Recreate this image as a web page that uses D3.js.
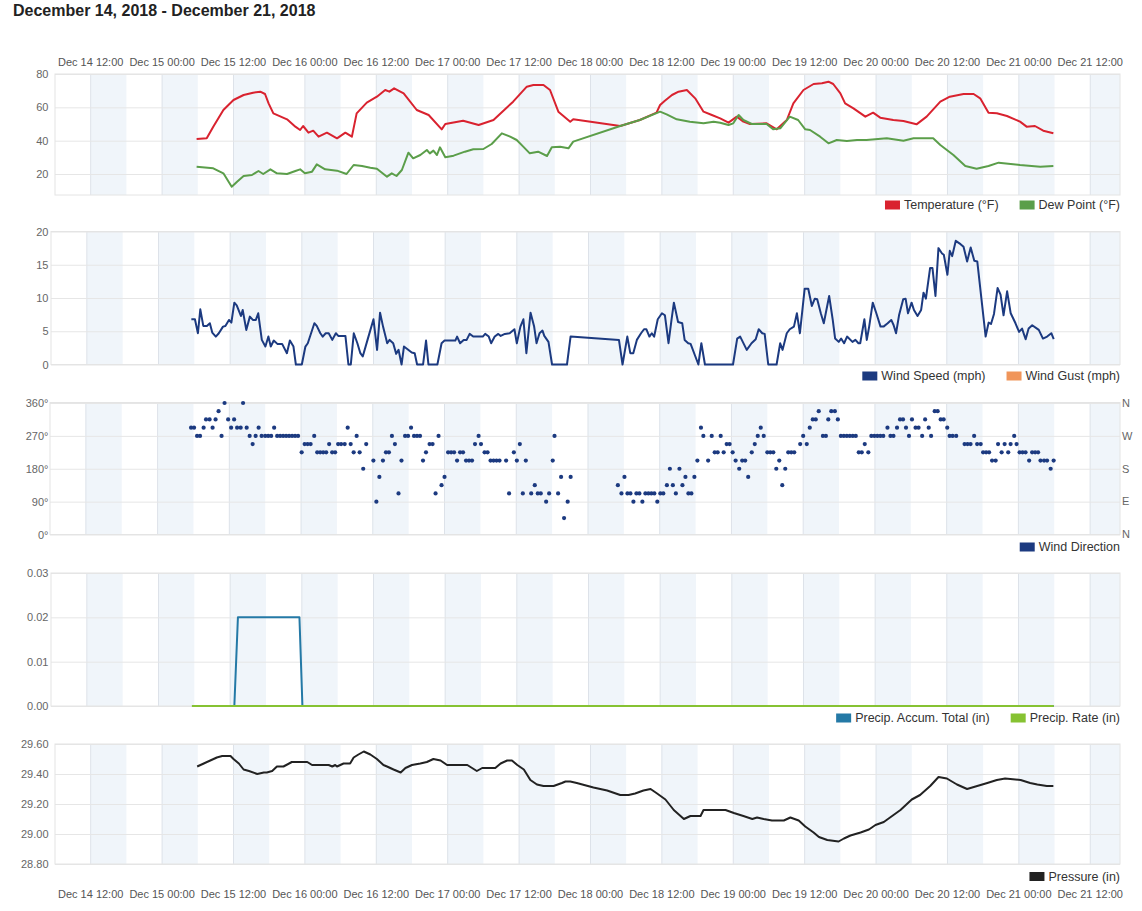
<!DOCTYPE html>
<html>
<head>
<meta charset="utf-8">
<script src="https://cdn.jsdelivr.net/npm/d3@7"></script>
<style>
  body { margin: 0; background: #fff; }
  svg { font-family: "Liberation Sans", Arial, sans-serif; }
</style>
</head>
<body>
<svg width="1142" height="911"></svg>
<script>
// hours after Dec 15 2018 00:00, value
var temperature = [[5.8,41],[7.5,41.4],[8.6,48.4],[10.3,58.4],[12,64.4],[13.7,67.4],[15.3,68.8],[16.5,69.4],[17.3,68],[17.9,62.4],[18.7,56.4],[21,52.8],[22.4,48.4],[23.2,46.4],[23.7,48.8],[24.6,44.8],[25.4,46],[26.3,42.4],[27.7,44.8],[29.4,41.4],[30.8,44.8],[31.9,42.4],[32.7,56.4],[34.4,62.8],[36.1,66.4],[37.5,70.4],[38.2,69.4],[39,71.4],[40.6,68.4],[42.8,58.4],[44.8,55.4],[47,46.8],[47.6,50],[50.6,52],[53.2,49.4],[55.7,52.4],[59,63.4],[61.3,72.4],[62.4,73.4],[64.1,73.4],[65.2,70.4],[66.6,57.4],[68.6,51.4],[69.1,52.8],[77,48.8],[80.3,52.4],[83.1,56.8],[83.7,61.4],[84.5,64],[85.7,67.4],[86.8,69.4],[88.2,70.4],[89.6,65.4],[91,57.4],[92.4,55.4],[93.8,53.4],[95.2,50.8],[96.6,54.4],[97.7,51.4],[98.8,50],[101.6,50.4],[103.3,46.8],[105,52.4],[106.1,62.4],[107.8,70.4],[109.5,74],[110.9,74.4],[112,75.4],[112.8,74],[114,68.4],[114.8,62.4],[116.2,59.4],[118.2,54.4],[119.5,56.8],[120.7,53.8],[122.9,52.4],[124.6,51.8],[126.8,49.8],[128.5,54.4],[130.8,63.4],[132.4,66.4],[134.7,68],[136.4,68],[137.5,65.4],[138.9,56.8],[140.3,56.4],[142,54.8],[144.2,51.4],[145.3,48.4],[146.7,48.8],[148.1,46],[149.8,44.4]];

var dewPoint = [[5.8,24.4],[8.6,23.4],[10.3,20.4],[11.7,12.4],[12.6,15.4],[13.7,18.8],[15.1,19.4],[16.2,21.8],[17,20],[18.2,22.8],[19.3,20.4],[21,20],[22.4,21.8],[23.2,22.8],[24,20.4],[25.2,21.4],[26,25.8],[27.4,22.8],[29.4,22],[31,20],[32.2,25.4],[33.6,24.8],[35,23.8],[36.1,23.2],[37.8,18.4],[38.6,20.4],[39.4,18.8],[40.3,22.4],[41.4,32.8],[42.2,29.4],[43.4,31.4],[44.5,34.4],[45,32.4],[45.6,34],[46.2,31.4],[46.7,36],[47.6,30],[49,31],[50.9,33.4],[52.3,34.8],[54,35],[55.4,38],[57.1,44.4],[58.5,42.4],[59.6,40.4],[60.7,36.4],[61.8,32.4],[63.2,33.4],[64.7,30.8],[65.5,36],[66.9,36.4],[68.3,35.4],[69.1,39.4],[77,48.8],[80.3,52.4],[83.7,57.4],[84.8,55.8],[86.5,52.8],[88.7,51.4],[91,50.4],[92.7,51.4],[93.8,50.8],[95.2,49.4],[96,50.4],[96.9,55.4],[97.7,52.4],[99.1,50],[101.6,50],[102.7,46.8],[103.9,47.4],[105.5,54.4],[106.9,52.4],[108.1,46.8],[108.9,46.4],[110.6,42.4],[112,38.4],[113.4,40.4],[115.1,39.8],[116.8,40.4],[118.4,40.4],[121.8,41.4],[124.6,40],[126.3,41.4],[129.6,41.4],[130.8,37.4],[133,31.4],[135,24.8],[136.9,23.2],[138.9,24.8],[140.6,26.8],[144.2,25.4],[147.6,24.4],[149.8,24.8]];

var windSpeed = [[5.5,6.8],[6.1,6.8],[6.6,4.7],[7,8.3],[7.5,5.8],[8.1,5.8],[8.6,6.2],[9,4.8],[9.6,4.2],[10.1,4.7],[10.8,5.7],[11.2,5.8],[11.8,6.7],[12.2,6.3],[12.7,9.3],[13.1,8.9],[13.8,7.3],[14.1,8.2],[14.7,5.2],[15.3,7.2],[15.8,6.7],[16.3,6.7],[16.7,7.7],[17.3,3.7],[17.9,2.7],[18.4,4.2],[18.8,2.7],[19.3,3.6],[19.9,3.1],[20.7,3.1],[21.5,1.7],[22,3.6],[22.6,2.7],[23,0],[24,0],[24.6,2.7],[25,3.2],[26.1,6.2],[26.5,5.8],[27.1,4.7],[27.5,4.2],[28,4.7],[28.5,4.7],[29.1,3.7],[29.7,4.7],[30.1,4.3],[31.3,4.3],[31.8,0],[32.2,0],[32.7,4.7],[33.3,3.2],[33.8,1.7],[34.2,1.2],[35,3.7],[36,6.8],[36.6,2.2],[37.1,7.8],[37.6,5.7],[38.3,3.2],[38.7,3.7],[39.3,3.2],[39.8,1.6],[40.2,2.2],[40.7,0],[41.1,2.7],[41.7,2.3],[42.4,1.8],[42.9,1.7],[43.3,0],[44.3,0],[44.8,3.6],[45.2,0],[46.7,0],[47.4,3.2],[47.9,3.6],[49.7,3.6],[50,4.2],[50.5,3.2],[51.1,3.7],[51.6,3.7],[52.1,4.6],[52.7,4.2],[54.3,4.2],[54.7,4.6],[55.3,4.2],[55.7,3.2],[56.3,4.2],[56.9,4.6],[57.3,4.3],[58,4.6],[58.8,4.7],[59.6,5.3],[60,3.2],[60.6,5.7],[61.1,6.8],[61.6,1.7],[62.3,7.8],[62.9,5.7],[63.3,3.2],[63.8,4.7],[64.3,5.1],[64.6,4.3],[65.3,3.4],[65.9,0],[68.4,0],[69,4.2],[77.1,3.7],[77.7,0],[78.5,4.2],[79,1.7],[79.5,1.7],[80.1,3.7],[80.8,4.7],[81.3,5.3],[81.7,5.3],[82.2,4.2],[82.6,4.7],[83,4.2],[83.6,6.8],[84.3,7.7],[84.8,7.4],[85.4,3.2],[85.9,6.7],[86.3,9.3],[87,6.4],[87.7,6.2],[88.1,3.7],[88.7,3.2],[89.1,3.1],[89.9,1.2],[90.4,0],[90.9,3.2],[91.5,0],[96.2,0],[96.9,3.9],[97.4,4.2],[98.5,2.2],[99.3,3.2],[100,3.8],[100.5,5.3],[101.1,4.7],[101.5,4.6],[102.1,0],[103.5,0],[104.1,3.2],[104.5,2.2],[105.2,4.7],[105.7,5.3],[106.4,5.7],[106.9,7.7],[107.4,4.7],[108.2,11.4],[108.8,11.4],[109.4,8.8],[109.9,9.9],[110.3,9.8],[110.9,7.7],[111.4,6.2],[112.3,10.3],[112.9,6.7],[113.3,3.9],[113.9,3.4],[114.3,3.9],[114.8,3.2],[115.3,4.2],[116.2,3.4],[116.7,3.7],[117.2,3.2],[117.5,3.2],[118.2,6.8],[118.6,3.7],[119,5.7],[119.6,9.3],[120.2,7.7],[120.9,5.7],[121.4,5.7],[122.1,6.2],[122.7,6.7],[123.1,5.9],[123.5,4.7],[124,7.4],[124.7,9.8],[125.1,9.9],[125.5,7.7],[126.1,9.3],[126.5,8.2],[127.1,7.3],[127.7,8.2],[128.1,10.8],[128.5,9.9],[129.2,14.5],[129.6,14.5],[130.1,10.3],[130.6,17.5],[131.2,16.7],[131.5,16.5],[132.1,13.5],[132.5,17.1],[132.9,16.3],[133.5,18.6],[134.3,18.1],[134.8,17.7],[135.4,15.5],[136,17.6],[136.6,15.6],[137.1,15.5],[138.5,4.2],[139,6.3],[139.4,6.1],[139.9,7.6],[140.5,11.5],[141,10.5],[141.5,7.4],[142.1,11],[142.7,7.7],[143.5,6.2],[144.1,4.9],[144.6,5.4],[145.2,3.8],[145.7,5.4],[146.3,5.9],[147.1,5.4],[147.4,5.2],[148.1,3.9],[148.8,4.2],[149.5,4.7],[149.9,3.8]];

var windGust = [];

var windDirection = [[5.6,292.5],[6.1,292.5],[6.6,270],[7.1,270],[7.7,292.5],[8.1,315],[8.7,315],[9.2,292.5],[9.7,315],[10.2,337.5],[10.7,270],[11.2,360],[11.8,315],[12.3,292.5],[12.8,315],[13.3,292.5],[13.9,292.5],[14.3,360],[14.9,292.5],[15.4,270],[15.9,247.5],[16.4,270],[16.9,292.5],[17.4,270],[18,270],[18.5,270],[19,270],[19.5,292.5],[20,270],[20.5,270],[21,270],[21.5,270],[22,270],[22.5,270],[23,270],[23.5,270],[24.1,225],[24.6,247.5],[25.1,247.5],[25.6,247.5],[26.2,270],[26.7,225],[27.2,225],[27.7,225],[28.2,225],[28.7,247.5],[29.2,225],[29.7,225],[30.2,247.5],[30.7,247.5],[31.3,247.5],[31.8,292.5],[32.3,247.5],[32.8,225],[33.3,270],[33.8,225],[34.4,180],[34.9,247.5],[36.1,202.5],[36.6,90],[37.1,157.5],[37.7,202.5],[38.2,225],[38.7,225],[39.2,270],[39.7,247.5],[40.3,112.5],
  [40.8,202.5],[41.4,270],[41.9,270],[42.4,292.5],[42.9,270],[43.4,270],[43.9,270],[44.4,202.5],[44.9,225],[45.5,247.5],[46,247.5],[46.5,112.5],[47,270],[47.5,135],[48,157.5],[48.6,225],[49.1,225],[49.6,225],[50.1,202.5],[50.6,225],[51.1,225],[51.6,202.5],[52.1,202.5],[52.6,202.5],[53.1,247.5],[53.7,270],[54.1,247.5],[54.7,225],[55.2,225],[55.7,202.5],[56.2,202.5],[56.7,202.5],[57.2,202.5],[58.3,202.5],[58.8,112.5],[59.6,225],[60.1,202.5],[60.6,247.5],[61.1,112.5],[61.6,202.5],[62.5,112.5],[63.1,135],[63.6,112.5],[64.1,112.5],[65,90],[65.5,112.5],[66.1,202.5],[66.4,270],[67,112.5],[67.5,157.5],[68,45],[68.6,90],[69.1,157.5],
  [77,135],[77.6,112.5],[78.1,157.5],[78.6,112.5],[79.1,112.5],[79.6,90],[80.1,112.5],[80.6,112.5],[81.1,90],[81.6,112.5],[82.1,112.5],[82.6,112.5],[83.1,112.5],[83.6,90],[84.1,112.5],[84.6,112.5],[85.2,135],[85.7,180],[86.2,135],[86.7,112.5],[87.3,180],[87.8,135],[88.3,157.5],[88.8,112.5],[89.3,112.5],[89.8,157.5],[90.3,202.5],[90.9,292.5],[91.3,270],[92.1,202.5],[92.7,270],[93.2,225],[93.7,225],[94.2,270],[94.7,225],[95.2,247.5],[95.7,247.5],[96.2,225],[96.7,202.5],[97.3,180],[97.8,202.5],[98.3,202.5],[98.8,157.5],[99.4,225],[99.9,247.5],[100.4,270],[100.9,292.5],[101.4,270],[102,225],[102.5,225],[103,225],[103.5,180],[104,202.5],[104.5,135],[105,180],[105.5,225],[106,225],[106.5,225],[107.5,247.5],[108,270],[108.6,247.5],[109.1,292.5],[109.6,315],[110.1,315],[110.6,337.5],[111.3,270],[111.8,270],[112.2,315],[112.7,337.5],[113.3,337.5],[113.8,315],[114.3,270],[114.8,270],[115.3,270],[115.8,270],[116.3,270],[116.8,270],[117.3,225],[117.8,225],[118.3,247.5],[118.9,225],[119.4,270],[119.9,270],[120.4,270],[120.9,270],[121.4,270],[122.1,292.5],[122.6,270],[123.1,270],[123.7,292.5],[124.2,315],[124.7,315],[125.2,292.5],[125.7,270],[126.2,315],[126.8,292.5],[127.3,292.5],
  [127.9,270],[128.4,315],[129,292.5],[129.4,270],[130,337.5],[130.5,337.5],[131,315],[131.5,315],[132.1,292.5],[132.5,270],[133,270],[133.6,270],[135,247.5],[135.5,247.5],[136,247.5],[136.6,270],[137.1,247.5],[137.7,247.5],[138.1,225],[138.6,225],[139.1,225],[139.6,202.5],[140.2,202.5],[140.6,247.5],[141.2,225],[141.7,247.5],[142.3,225],[142.7,247.5],[143.3,270],[143.7,247.5],[144.2,225],[144.7,225],[145.2,225],[145.8,202.5],[146.3,225],[146.8,225],[147.3,225],[147.7,202.5],[148.3,202.5],[148.8,202.5],[149.4,180],[149.9,202.5]];

var precipAccum = [[5.6,0],[12.7,0],[13.3,0.02],[23.6,0.02],[24.1,0],[149.9,0]];
var precipRate = [[5.6,0],[149.9,0]];

var pressure = [[5.9,29.45],[7,29.47],[8.1,29.49],[9.2,29.51],[10.1,29.52],[11.5,29.52],[12,29.50],[12.9,29.47],[13.7,29.43],[14.6,29.42],[16,29.40],[17.1,29.41],[17.6,29.41],[18.5,29.42],[19.3,29.45],[20.4,29.45],[21.8,29.48],[23.5,29.48],[24.4,29.48],[25.2,29.46],[28,29.46],[28.6,29.45],[29.1,29.46],[29.4,29.45],[30.5,29.47],[31.6,29.47],[32.2,29.51],[33,29.53],[33.9,29.55],[35,29.53],[36.1,29.50],[37.2,29.46],[37.8,29.45],[38.9,29.43],[40.1,29.41],[40.9,29.44],[42,29.46],[43.4,29.47],[44.5,29.48],[45.6,29.50],[46.8,29.49],[47.9,29.46],[49.6,29.46],[51.3,29.46],[52.1,29.44],[52.9,29.42],[53.8,29.44],[54.9,29.44],[56,29.44],[56.9,29.47],[58,29.49],[58.8,29.49],[59.7,29.46],[60.8,29.43],[61.9,29.36],[63,29.33],[64.1,29.32],[65.8,29.32],[67.2,29.34],[67.8,29.35],[68.6,29.35],[69.7,29.34],[72.5,29.31],[74.8,29.29],[77,29.26],[78.4,29.26],[79.5,29.27],[80.9,29.29],[82.1,29.30],[83.2,29.27],[84.6,29.23],[86,29.16],[87.7,29.10],[88.8,29.12],[90.5,29.12],[91,29.16],[93.8,29.16],[94.7,29.16],[96.1,29.14],[97.7,29.12],[99.2,29.10],[100,29.11],[101.1,29.10],[102.5,29.09],[104.5,29.09],[105.6,29.11],[107,29.09],[108.1,29.05],[109.5,29.01],[110.4,28.98],[111.8,28.96],[113.7,28.95],[114.6,28.97],[115.7,28.99],[117.4,29.01],[118.8,29.03],[119.9,29.06],[121.3,29.08],[122.7,29.12],[124.1,29.16],[126,29.23],[127.4,29.26],[129.1,29.32],[130.5,29.38],[131.9,29.37],[133.6,29.33],[135.3,29.30],[137,29.32],[138.7,29.34],[140.3,29.36],[141.7,29.37],[144.3,29.36],[145.9,29.34],[147.1,29.33],[148.7,29.32],[149.8,29.32]];

var tempTicks = [20, 40, 60, 80];
var windTicks = [0, 5, 10, 15, 20];
var dirTicks = [0, 90, 180, 270, 360];
var dirLabels = ["N", "E", "S", "W", "N"];
var precipTicks = [0, 0.01, 0.02, 0.03];
var pressureTicks = [28.8, 29.0, 29.2, 29.4, 29.6];

var t0 = new Date(2018, 11, 15, 0, 0);
function toDate(h) { return new Date(t0.getTime() + h * 3600000); }

var xStart = new Date(2018, 11, 14, 6, 0);
var xEnd = new Date(2018, 11, 21, 17, 0);
var plotRight = 1120;
var labelRight = 48.5;

var svg = d3.select("svg");
var fmtTick = d3.timeFormat("%b %d %H:%M");
var gridTicks = d3.timeHour.range(new Date(2018, 11, 14, 12), new Date(2018, 11, 21, 13), 12);

svg.append("text")
  .attr("x", 13).attr("y", 16)
  .text("December 14, 2018 - December 21, 2018")
  .style("font-weight", "bold").style("font-size", "16px").attr("fill", "#222");

function panel(p) {
  var x = d3.scaleTime().domain([xStart, xEnd]).range([p.left, plotRight]);
  var y = d3.scaleLinear().domain(p.yDomain).range([p.bottom, p.yTop]);
  var g = svg.append("g");

  // night / afternoon bands
  g.selectAll(".band").data(gridTicks).enter().append("rect")
    .attr("x", d => x(d))
    .attr("y", p.top)
    .attr("width", d => Math.min(x(d3.timeHour.offset(d, 6)), plotRight) - x(d))
    .attr("height", p.bottom - p.top)
    .attr("fill", "#f0f5fa");

  g.selectAll(".vgrid").data(gridTicks).enter().append("line")
    .attr("x1", d => x(d)).attr("x2", d => x(d))
    .attr("y1", p.top).attr("y2", p.bottom)
    .attr("stroke", "#dde2e9");

  var ya = g.append("g")
    .attr("transform", "translate(" + p.left + ",0)")
    .call(d3.axisLeft(y).tickValues(p.ticks).tickSize(-(plotRight - p.left))
      .tickPadding(p.left - labelRight).tickFormat(p.fmt));
  ya.select(".domain").remove();
  ya.selectAll("line").attr("stroke", "#e6e6e6");
  ya.selectAll("text").attr("fill", "#666").style("font-size", "11px")
    .style("font-family", "'Liberation Sans', Arial, sans-serif");

  g.append("rect")
    .attr("x", p.left).attr("y", p.top)
    .attr("width", plotRight - p.left).attr("height", p.bottom - p.top)
    .attr("fill", "none").attr("stroke", "#e4e4e4");

  p.series.forEach(function(s) {
    if (s.data.length === 0) return;
    if (s.dots) {
      g.selectAll(null).data(s.data).enter().append("circle")
        .attr("cx", d => x(toDate(d[0])))
        .attr("cy", d => y(d[1]))
        .attr("r", 2.1)
        .attr("fill", s.color);
    } else {
      var line = d3.line().x(d => x(toDate(d[0]))).y(d => y(d[1]));
      g.append("path").datum(s.data)
        .attr("d", line)
        .attr("fill", "none")
        .attr("stroke", s.color)
        .attr("stroke-width", 2)
        .attr("stroke-linejoin", "round");
    }
  });

  // legend, right aligned
  var lx = plotRight;
  p.series.slice().reverse().forEach(function(s) {
    var t = g.append("text")
      .attr("x", lx).attr("y", p.legendY).attr("dy", "0.35em")
      .attr("text-anchor", "end")
      .style("font-size", "12.5px").attr("fill", "#333")
      .text(s.name);
    var w = t.node().getComputedTextLength();
    g.append("rect")
      .attr("x", lx - w - 19).attr("y", p.legendY - 4.5)
      .attr("width", 15).attr("height", 9)
      .attr("fill", s.color);
    lx = lx - w - 19 - 21;
  });

  return x;
}

var xTemp = panel({
  left: 55, top: 74, bottom: 195, yTop: 74, yDomain: [7.4, 80],
  ticks: tempTicks, fmt: d => d, legendY: 205,
  series: [
    { name: "Temperature (°F)", data: temperature, color: "#d9222f" },
    { name: "Dew Point (°F)", data: dewPoint, color: "#5b9e4a" }
  ]
});

panel({
  left: 51, top: 231.5, bottom: 364.5, yTop: 231.5, yDomain: [0, 20],
  ticks: windTicks, fmt: d => d, legendY: 376,
  series: [
    { name: "Wind Speed (mph)", data: windSpeed, color: "#1c3a80" },
    { name: "Wind Gust (mph)", data: windGust, color: "#f0955a" }
  ]
});

panel({
  left: 50, top: 402.5, bottom: 534.5, yTop: 403, yDomain: [0, 360],
  ticks: dirTicks, fmt: d => d + "°", legendY: 547,
  series: [
    { name: "Wind Direction", data: windDirection, color: "#1c3a80", dots: true }
  ]
});

// compass letters on the right of the direction panel
var yDir = d3.scaleLinear().domain([0, 360]).range([534.5, 403]);
svg.selectAll(".compass").data(dirTicks).enter().append("text")
  .attr("x", 1122).attr("y", d => yDir(d)).attr("dy", "0.35em")
  .style("font-size", "11px").attr("fill", "#666")
  .text((d, i) => dirLabels[i]);

panel({
  left: 51, top: 573, bottom: 706, yTop: 573, yDomain: [0, 0.03],
  ticks: precipTicks, fmt: d3.format(".2f"), legendY: 718,
  series: [
    { name: "Precip. Accum. Total (in)", data: precipAccum, color: "#2479a6" },
    { name: "Precip. Rate (in)", data: precipRate, color: "#86c232" }
  ]
});

var xPres = panel({
  left: 55, top: 744, bottom: 864, yTop: 744, yDomain: [28.8, 29.6],
  ticks: pressureTicks, fmt: d3.format(".2f"), legendY: 876.5,
  series: [
    { name: "Pressure (in)", data: pressure, color: "#222" }
  ]
});

// time labels above and below
svg.selectAll(".topTick").data(gridTicks).enter().append("text")
  .attr("x", d => xTemp(d)).attr("y", 62).attr("dy", "0.35em")
  .attr("text-anchor", "middle")
  .style("font-size", "11px").attr("fill", "#555")
  .text(d => fmtTick(d));

svg.selectAll(".bottomTick").data(gridTicks).enter().append("text")
  .attr("x", d => xPres(d)).attr("y", 894).attr("dy", "0.35em")
  .attr("text-anchor", "middle")
  .style("font-size", "11px").attr("fill", "#555")
  .text(d => fmtTick(d));
</script>
</body>
</html>
